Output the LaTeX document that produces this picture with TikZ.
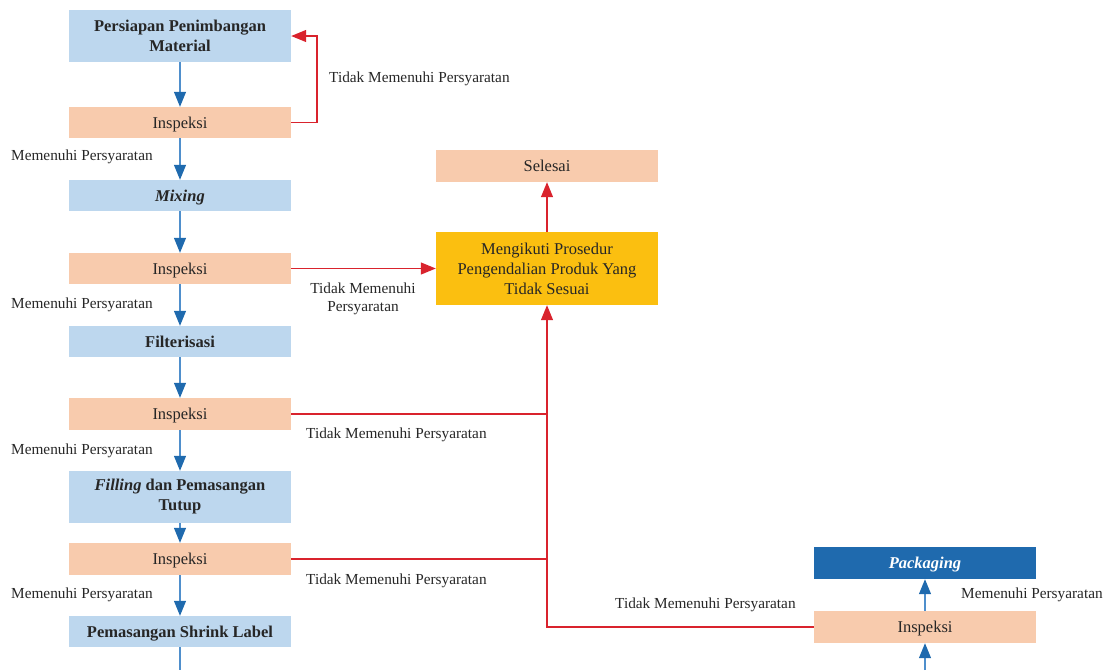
\documentclass[tikz,border=0pt]{standalone}
\usepackage{fontspec}
\setmainfont{Liberation Serif}
\usetikzlibrary{arrows.meta}
\definecolor{lblue}{HTML}{BDD7EE}
\definecolor{peach}{HTML}{F8CBAD}
\definecolor{gold}{HTML}{FBBF10}
\definecolor{dblue}{HTML}{1F6AAE}
\definecolor{aline}{HTML}{4F8FCC}
\definecolor{rline}{HTML}{D9232D}
\tikzset{
  box/.style={minimum width=222pt, inner sep=0pt, align=center, font=\fontsize{16.5}{20}\selectfont, text=black!85},
  one/.style={text height=11pt, text depth=0pt},
  proc/.style={box, fill=lblue, font=\fontsize{16.5}{20}\selectfont\bfseries},
  insp/.style={box, fill=peach},
  lbl/.style={inner sep=0pt, font=\fontsize{15.3}{18}\selectfont, text=black!85},
  ok/.style={draw=aline, line width=1.2pt, -{Triangle[length=15pt,width=12pt,color=dblue]}},
  okline/.style={draw=aline, line width=1.2pt},
  bad/.style={draw=rline, line width=1.2pt, -{Triangle[length=15pt,width=12pt]}},
  badline/.style={draw=rline, line width=1.2pt},
}
\begin{document}
\begin{tikzpicture}[x=1pt,y=-1pt]
\useasboundingbox (0,0) rectangle (1105,670);
% left column
\node[proc, minimum height=52pt] (n1) at (180,36) {Persiapan Penimbangan\\Material};
\node[insp, one, minimum height=31pt] (i1) at (180,122.5) {Inspeksi};
\node[proc, one, minimum height=31pt] (mix) at (180,195.5) {\textit{Mixing}};
\node[insp, one, minimum height=31pt] (i2) at (180,268.5) {Inspeksi};
\node[proc, one, minimum height=31pt] (filt) at (180,341.5) {Filterisasi};
\node[insp, one, minimum height=32pt] (i3) at (180,414) {Inspeksi};
\node[proc, minimum height=52pt] (fill) at (180,497) {\textit{Filling} dan Pemasangan\\Tutup};
\node[insp, one, minimum height=32pt] (i4) at (180,559) {Inspeksi};
\node[proc, one, minimum height=31pt] (shr) at (180,631.5) {Pemasangan Shrink Label};
\coordinate (shrend) at (180,670);
% right
\node[insp, one, minimum height=32pt] (sel) at (547,166) {Selesai};
\node[box, fill=gold, minimum height=73pt] (pr) at (547,268.5) {Mengikuti Prosedur\\Pengendalian Produk Yang\\Tidak Sesuai};
\node[box, one, fill=dblue, minimum height=32pt, text=white, font=\fontsize{16.5}{20}\selectfont\bfseries\itshape] (pack) at (925,563) {Packaging};
\node[insp, one, minimum height=32pt] (ib) at (925,627) {Inspeksi};
\coordinate (ibstart) at (925,670);
\coordinate (j) at (547,627);
\coordinate (loop) at (317,0);
% blue arrows
\draw[ok] (n1) -- (i1);
\draw[ok] (i1) -- (mix);
\draw[ok] (mix) -- (i2);
\draw[ok] (i2) -- (filt);
\draw[ok] (filt) -- (i3);
\draw[ok] (i3) -- (fill);
\draw[ok] (fill) -- (i4);
\draw[ok] (i4) -- (shr);
\draw[okline] (shr) -- (shrend);
\draw[ok] (ibstart) -- (ib);
\draw[ok] (ib) -- (pack);
% red
\draw[bad] (i1.east) -- (i1.east -| loop) |- (n1.east);
\draw[bad] (i2) -- (pr);
\draw[badline] (i3.east) -- (i3.east -| j);
\draw[badline] (i4.east) -- (i4.east -| j);
\draw[bad] (ib.west) -- (j) -- (pr.south);
\draw[bad] (pr) -- (sel);
% labels
\node[lbl, anchor=west] (t1) at (329,79) {Tidak Memenuhi Persyaratan};
\node[lbl, anchor=west] (m1) at (11,157) {Memenuhi Persyaratan};
\node[lbl, align=center] (t2) at (363,299) {Tidak Memenuhi\\Persyaratan};
\node[lbl, anchor=west] (m2) at (11,305) {Memenuhi Persyaratan};
\node[lbl, anchor=west] (t3) at (306,435) {Tidak Memenuhi Persyaratan};
\node[lbl, anchor=west] (m3) at (11,451) {Memenuhi Persyaratan};
\node[lbl, anchor=west] (t4) at (306,581) {Tidak Memenuhi Persyaratan};
\node[lbl, anchor=west] (m4) at (11,595) {Memenuhi Persyaratan};
\node[lbl, anchor=west] (t5) at (615,605) {Tidak Memenuhi Persyaratan};
\node[lbl, anchor=west] (m5) at (961,595) {Memenuhi Persyaratan};
\end{tikzpicture}
\end{document}
